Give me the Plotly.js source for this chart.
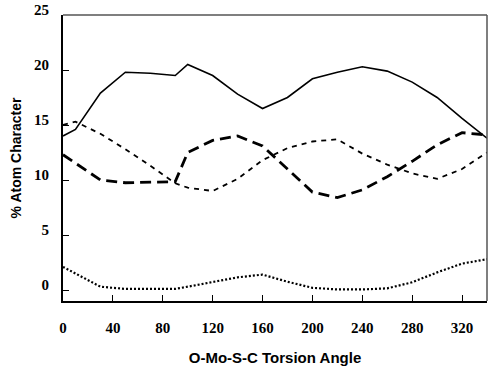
<!DOCTYPE html>
<html>
<head>
<meta charset="utf-8">
<script src="https://cdn.plot.ly/plotly-3.0.1.min.js"></script>
<style>html,body{margin:0;padding:0;background:#fff;}#chart{width:488px;height:366px;}</style>
</head>
<body>
<div id="chart"></div>
<script>
// Torsion angle (degrees) and % atom character for four series
const solidX = [0, 10, 30, 50, 70, 90, 100, 120, 140, 160, 180, 200, 220, 240, 260, 280, 300, 320, 340];
const solidY = [14.0, 14.6, 17.9, 19.8, 19.7, 19.5, 20.5, 19.5, 17.8, 16.5, 17.5, 19.2, 19.8, 20.3, 19.9, 18.9, 17.5, 15.6, 13.8];

const shortDashX = [0, 10, 30, 50, 70, 90, 100, 120, 140, 160, 180, 200, 220, 240, 260, 280, 300, 320, 340];
const shortDashY = [15.0, 15.3, 14.2, 12.8, 11.3, 9.7, 9.3, 9.0, 10.1, 11.8, 12.9, 13.5, 13.7, 12.4, 11.4, 10.6, 10.1, 11.0, 12.5];

const longDashX = [0, 30, 50, 70, 90, 100, 120, 140, 160, 180, 200, 220, 240, 260, 280, 300, 320, 340];
const longDashY = [12.3, 10.0, 9.75, 9.8, 9.85, 12.5, 13.6, 14.0, 13.1, 11.0, 8.9, 8.4, 9.1, 10.3, 11.7, 13.2, 14.3, 14.1];

const dotX = [0, 30, 50, 70, 90, 100, 120, 140, 160, 180, 200, 220, 240, 260, 280, 300, 320, 340];
const dotY = [2.1, 0.3, 0.1, 0.1, 0.1, 0.3, 0.7, 1.15, 1.4, 0.75, 0.2, 0.05, 0.05, 0.15, 0.7, 1.6, 2.4, 2.8];

const xTicks = [0, 40, 80, 120, 160, 200, 240, 280, 320];
const yTicks = [0, 5, 10, 15, 20, 25];

const serif = 'Liberation Serif';
const sans = 'Liberation Sans';

const traces = [
  {x: solidX, y: solidY, mode: 'lines', line: {color: '#000', width: 1.6, dash: 'solid'}},
  {x: shortDashX, y: shortDashY, mode: 'lines', line: {color: '#000', width: 1.8, dash: '5px,5px'}},
  {x: longDashX, y: longDashY, mode: 'lines', line: {color: '#000', width: 2.8, dash: '11px,6px'}},
  {x: dotX, y: dotY, mode: 'lines', line: {color: '#000', width: 2.2, dash: '2px,2px'}}
];

const layout = {
  width: 488, height: 366,
  margin: {l: 63, r: 1, t: 15, b: 65},
  paper_bgcolor: '#fff', plot_bgcolor: '#fff',
  showlegend: false,
  xaxis: {
    range: [0, 340], tickvals: xTicks, ticktext: xTicks.map(String),
    ticks: 'inside', ticklen: 6, tickwidth: 1, tickcolor: '#000',
    showline: true, linecolor: '#000', linewidth: 2,
    showgrid: false, zeroline: false,
    tickfont: {family: serif, size: 15, color: '#000', weight: 'bold'},
    ticklabelstandoff: 12,
    title: {text: 'O-Mo-S-C Torsion Angle', font: {family: sans, size: 15, color: '#000', weight: 'bold'}, standoff: 17}
  },
  yaxis: {
    range: [-1, 25], tickvals: yTicks, ticktext: yTicks.map(String),
    ticks: 'inside', ticklen: 6, tickwidth: 1, tickcolor: '#000',
    showline: true, linecolor: '#000', linewidth: 2,
    showgrid: false, zeroline: false,
    tickfont: {family: serif, size: 15, color: '#000', weight: 'bold'},
    ticklabelstandoff: 9, ticklabelshift: -5,
    title: {text: '% Atom Character', font: {family: sans, size: 14, color: '#000', weight: 'bold'}, standoff: 9}
  },
  shapes: [
    {type: 'line', xref: 'paper', yref: 'paper', x0: 0, x1: 1, y0: 1, y1: 1, line: {color: '#555', width: 1.5}},
    {type: 'line', xref: 'paper', yref: 'paper', x0: 1, x1: 1, y0: 0, y1: 1, line: {color: '#555', width: 1.5}}
  ]
};

Plotly.newPlot('chart', traces, layout, {staticPlot: true, displayModeBar: false});
</script>
</body>
</html>
